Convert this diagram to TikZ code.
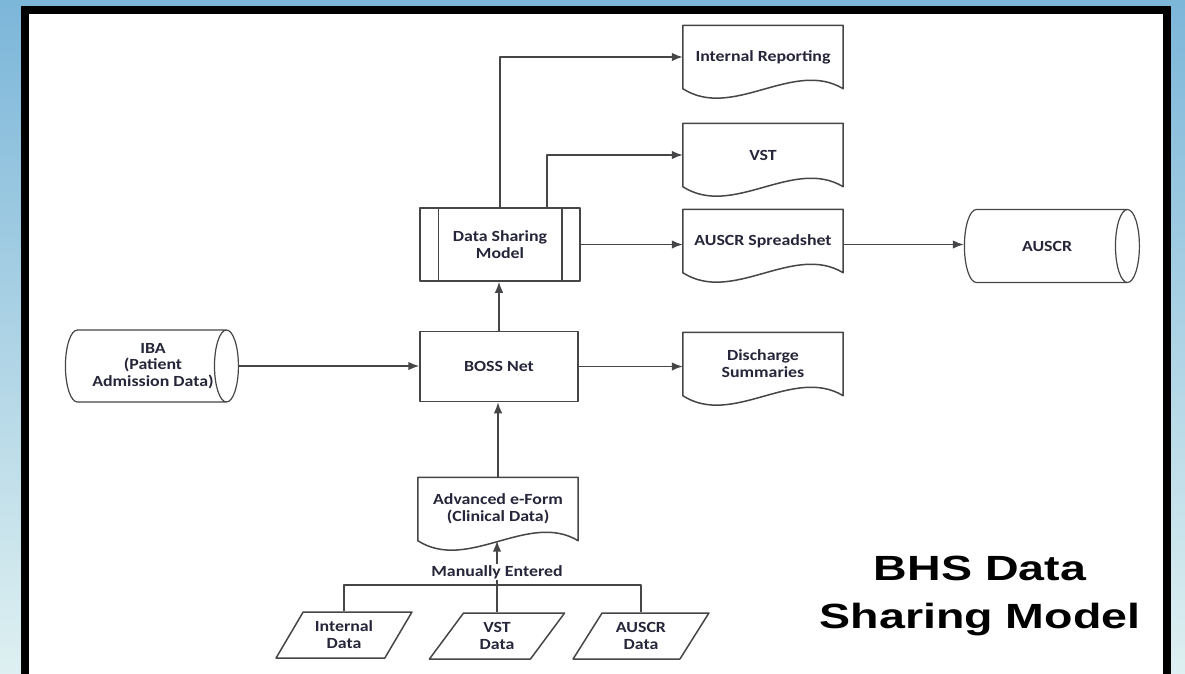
\documentclass[tikz,border=0pt]{standalone}
\usepackage{fontspec}
\setmainfont{Carlito}[FakeStretch=1.15]
\newfontfamily\titlefont{Liberation Sans}[FakeStretch=1.33]
\usetikzlibrary{arrows.meta}
\usetikzlibrary{shapes.geometric}
\definecolor{bgtop}{RGB}{124,182,217}
\definecolor{bgbot}{RGB}{222,240,241}
\definecolor{linecol}{RGB}{70,70,72}
\definecolor{txtcol}{RGB}{38,38,58}
\newcommand\boxfont{\fontsize{15.5}{16.8}\selectfont\bfseries}

\begin{document}
\begin{tikzpicture}[x=1pt,y=-1pt]
\tikzset{every node/.style={font=\boxfont, text=txtcol, align=center}}
\tikzset{conn/.style={draw=linecol, line width=1.5pt, line join=round}}
\tikzset{arr/.style={conn, -{Latex[length=11pt,width=8.5pt]}}}
\tikzset{procbox/.style={conn, minimum width=158pt, minimum height=70pt}}
\tikzset{docbox/.style={minimum width=160pt, minimum height=63pt, inner sep=0pt}}
\tikzset{drum/.style={cylinder, conn, line width=1.2pt, shape aspect=0.68, inner xsep=0pt, inner ysep=17.6pt, minimum height=173pt, minimum width=72pt}}
\tikzset{iobox/.style={trapezium, conn, trapezium left angle=58, trapezium right angle=122, trapezium stretches=true, minimum width=136pt, minimum height=46pt}}
\useasboundingbox (0,0) rectangle (1185,673);
\clip (0,0) rectangle (1185,673);
\shade[top color=bgtop, bottom color=bgbot] (0,0) rectangle (1185,673);
\draw[line width=8pt, fill=white] (25,10) rectangle (1167,700);

\node[docbox] (irep) at (763,57) {Internal Reporting};
\node[docbox] (vst) at (763,155) {VST};
\node[docbox] (spread) at (763,241) {AUSCR Spreadshet};
\node[docbox] (disch) at (763,364) {Discharge\\Summaries};
\node[docbox] (eform) at (498,509) {Advanced e-Form\\(Clinical Data)};
\foreach \d in {irep,vst,spread,disch,eform}
  \draw[conn] (\d.south west) -- (\d.north west) -- (\d.north east) -- (\d.south east)
    .. controls +(-50,-30) and +(50,32) .. (\d.south west) -- cycle;

\node[procbox, minimum width=160pt, minimum height=73pt] (dsm) at (500,244.5) {Data Sharing\\Model};
\draw[conn] ([xshift=19pt]dsm.north west) -- ([xshift=19pt]dsm.south west);
\draw[conn] ([xshift=-19pt]dsm.north east) -- ([xshift=-19pt]dsm.south east);
\node[procbox] (boss) at (499,366.5) {BOSS Net};

\node[drum] (iba) at (140.5,366) {};
\node (ibatext) at (153,366) {IBA\\(Patient\\Admission Data)};
\node[drum, minimum height=175pt, minimum width=73pt] (auscr) at (1040.5,246) {};
\node (auscrtext) at (1047,246) {AUSCR};

\node[iobox] (idata) at (344,635) {Internal\\Data};
\node[iobox] (vdata) at (497,636) {VST\\Data};
\node[iobox] (adata) at (641,636) {AUSCR\\Data};

\node[font=\titlefont\fontsize{35}{48}\selectfont\bfseries, text=black] (title) at (980,596) {BHS Data\\Sharing Model};

\draw[arr] (dsm.north) |- (irep.west);
\draw[arr] ([xshift=47pt]dsm.north) |- (vst.west);
\draw[arr] (dsm.east) -- (dsm.east -| spread.west);
\draw[arr] (dsm.east -| spread.east) -- (dsm.east -| auscr.west);
\draw[arr] (iba.east) -- (iba.east -| boss.west);
\draw[arr] (boss.east) -- (boss.east -| disch.west);
\draw[arr] (boss.north) -- (boss.north |- dsm.south);
\draw[arr] (eform.north) -- (eform.north |- boss.south);
\coordinate (bus) at (497,585);
\draw[conn] (idata.north) |- (bus) -| (adata.north);
\draw[arr] (vdata.north) -- (vdata.north |- eform.south);
\node[fill=white, inner sep=1pt] (manual) at (497,572) {Manually Entered};
\end{tikzpicture}
\end{document}
